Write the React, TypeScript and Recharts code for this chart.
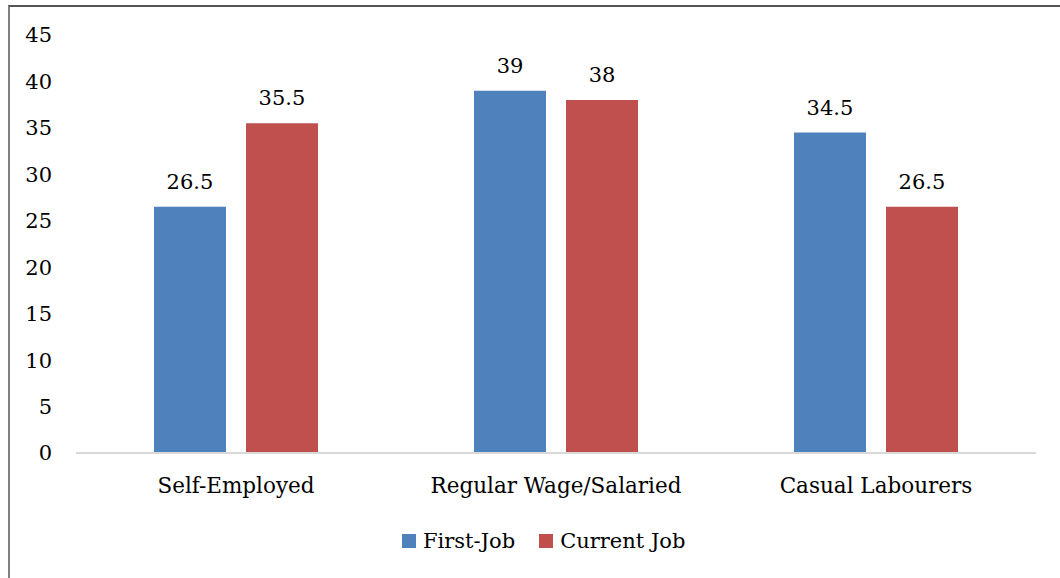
import { BarChart, Bar, XAxis, YAxis, Legend, LabelList } from 'recharts';

const categories = ['Self-Employed', 'Regular Wage/Salaried', 'Casual Labourers'];
const firstJob = [26.5, 39, 34.5];
const currentJob = [35.5, 38, 26.5];
const yTicks = [0, 5, 10, 15, 20, 25, 30, 35, 40, 45];

const series = [
  { key: 'first', name: 'First-Job', color: '#4F81BD' },
  { key: 'current', name: 'Current Job', color: '#C0504D' },
];
const font = '"DejaVu Serif", "Liberation Serif", serif';

const data = categories.map((name, i) => ({
  name,
  first: firstJob[i],
  current: currentJob[i],
}));

function LegendContent() {
  return (
    <div style={{ display: 'flex', alignItems: 'center', fontFamily: font, fontSize: 21, color: '#000' }}>
      {series.map((s) => (
        <div key={s.key} style={{ display: 'flex', alignItems: 'center', marginRight: 24 }}>
          <span style={{ width: 14, height: 14, background: s.color, display: 'inline-block', marginRight: 7 }} />
          <span>{s.name}</span>
        </div>
      ))}
    </div>
  );
}

export default function App() {
  return (
    <div style={{ position: 'absolute', left: 0, top: 0, width: 1060, height: 578, overflow: 'hidden', background: '#fff' }}>
      <div
        style={{
          position: 'absolute',
          left: 8,
          top: 5,
          width: 1100,
          height: 620,
          borderTop: '2px solid #555',
          borderLeft: '2px solid #808080',
        }}
      />
      <div style={{ position: 'absolute', left: 0, top: 0 }}>
        <BarChart
          width={1060}
          height={578}
          data={data}
          margin={{ top: 35, right: 24, left: 0, bottom: 19 }}
          barGap={20}
        >
          <XAxis
            dataKey="name"
            height={76}
            tickLine={false}
            axisLine={{ stroke: '#d9d9d9', strokeWidth: 2 }}
            tickSize={0}
            tickMargin={25}
            tick={{ fill: '#000', fontSize: 21.5, fontFamily: font }}
          />
          <YAxis
            width={76}
            domain={[0, 45]}
            ticks={yTicks}
            axisLine={false}
            tickLine={false}
            tickSize={0}
            tickMargin={24}
            tick={{ fill: '#000', fontSize: 21, fontFamily: font }}
          />
          <Legend
            verticalAlign="bottom"
            align="left"
            height={30}
            wrapperStyle={{ left: 402, width: 'auto' }}
            content={<LegendContent />}
          />
          {series.map((s) => (
            <Bar key={s.key} dataKey={s.key} name={s.name} fill={s.color} barSize={72} isAnimationActive={false}>
              <LabelList dataKey={s.key} position="top" offset={18} style={{ fill: '#000', fontSize: 21, fontFamily: font }} />
            </Bar>
          ))}
        </BarChart>
      </div>
    </div>
  );
}
